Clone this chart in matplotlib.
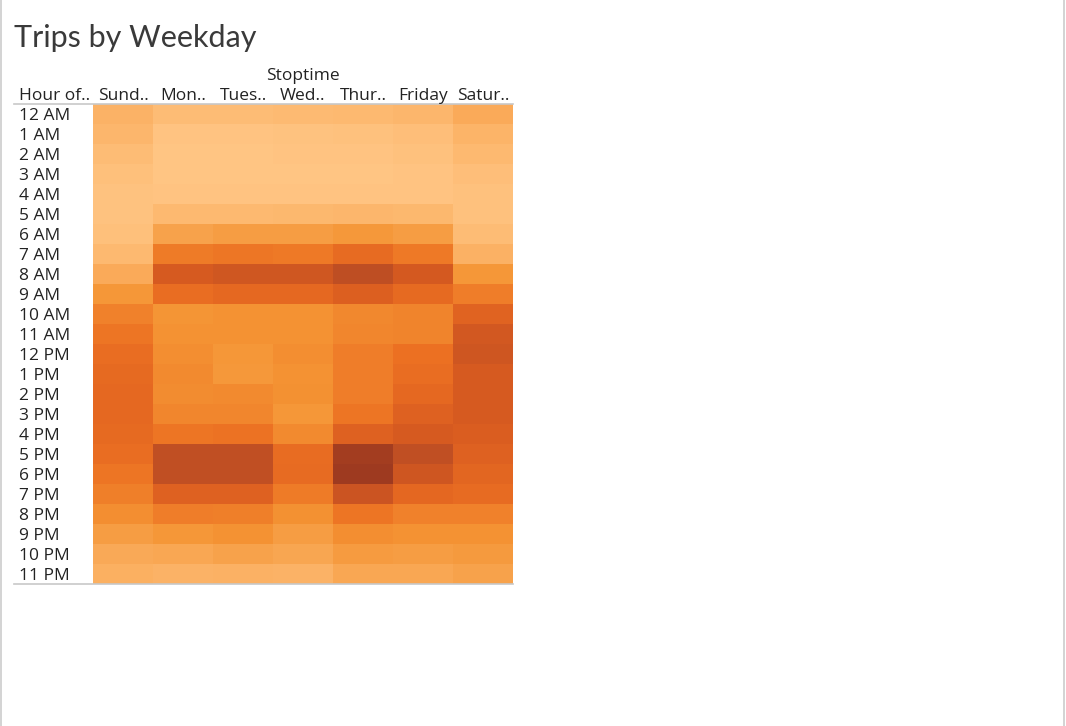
import numpy as np
import matplotlib
matplotlib.use("Agg")
import matplotlib.pyplot as plt
from matplotlib.colors import LinearSegmentedColormap
from matplotlib.lines import Line2D

# trips (relative scale)
days = ["Sund..", "Mon..", "Tues..", "Wed..", "Thur..", "Friday", "Satur.."]
hours = ["12 AM", "1 AM", "2 AM", "3 AM", "4 AM", "5 AM", "6 AM", "7 AM",
         "8 AM", "9 AM", "10 AM", "11 AM", "12 PM", "1 PM", "2 PM", "3 PM",
         "4 PM", "5 PM", "6 PM", "7 PM", "8 PM", "9 PM", "10 PM", "11 PM"]
sunday    = [15, 12, 8, 5, 3, 3, 5, 10, 20, 32, 42, 48, 52, 55, 56, 56, 55, 52, 48, 43, 36, 28, 21, 17]
monday    = [8, 2, 1, 1, 2, 10, 25, 45, 68, 52, 33, 34, 36, 38, 37, 40, 48, 82, 82, 62, 44, 32, 22, 15]
tuesday   = [8, 2, 1, 1, 2, 10, 28, 47, 72, 56, 34, 34, 32, 31, 38, 40, 49, 82, 82, 62, 43, 34, 25, 16]
wednesday = [9, 3, 2, 1, 2, 11, 28, 46, 72, 56, 34, 34, 36, 34, 35, 32, 38, 53, 54, 45, 35, 28, 23, 15]
thursday  = [10, 4, 2, 1, 2, 12, 31, 54, 83, 63, 39, 40, 44, 44, 44, 48, 62, 97, 100, 75, 48, 36, 29, 22]
friday    = [12, 6, 4, 2, 2, 11, 28, 46, 69, 55, 41, 41, 50, 52, 56, 62, 68, 82, 73, 57, 42, 34, 28, 22]
saturday  = [20, 14, 10, 6, 4, 4, 8, 16, 32, 44, 60, 70, 73, 68, 68, 68, 65, 62, 58, 54, 42, 34, 30, 25]

W, H = 1066, 726
fig = plt.figure(figsize=(W / 100, H / 100), dpi=100)

def fx(px):
  return px / W

def fy(py):
  return 1 - py / H

cmap = LinearSegmentedColormap.from_list(
  "tab_orange", ["#ffc685", "#fbb062", "#f49434", "#ec7022", "#d85b20", "#be4e23", "#9e3a20"])

data = np.array([sunday, monday, tuesday, wednesday, thursday, friday, saturday]).T

left, right, top, bottom = 93, 513, 104, 584
ax = fig.add_axes([fx(left), fy(bottom), fx(right - left), (bottom - top) / H])
ax.pcolormesh(np.arange(len(days) + 1), np.arange(len(hours) + 1), data,
              cmap=cmap, vmin=0, vmax=100, shading="flat")
ax.set_xlim(0, len(days))
ax.set_ylim(len(hours), 0)
ax.set_xticks([])
ax.set_yticks([])
for s in ax.spines.values():
  s.set_visible(False)

txt = "#222222"
fnt = "Open Sans"
fs = 12.5
va = "center_baseline"

fig.text(fx(14), fy(47), "Trips by Weekday", fontsize=22, color="#3a3a3a",
         family="Lato", va="baseline", ha="left")
fig.text(fx(303), fy(74), "Stoptime", fontsize=fs, color=txt, family=fnt,
         ha="center", va=va)
fig.text(fx(19), fy(94), "Hour of..", fontsize=fs, color=txt, family=fnt,
         ha="left", va=va)
col_w = (right - left) / len(days)
for i, d in enumerate(days):
  fig.text(fx(left + col_w * (i + 0.5)), fy(94), d, fontsize=fs, color=txt,
           family=fnt, ha="center", va=va)
row_h = (bottom - top) / len(hours)
for j, h in enumerate(hours):
  fig.text(fx(19), fy(top + row_h * (j + 0.5)), h, fontsize=fs, color=txt,
           family=fnt, ha="left", va=va)

# header / footer rules and outer border
for py in (top, bottom):
  fig.add_artist(Line2D([fx(14), fx(right)], [fy(py), fy(py)], color="#c8c8c8", lw=1.2))
for px in (1, 1064):
  fig.add_artist(Line2D([fx(px), fx(px)], [0, 1], color="#cccccc", lw=1.2))

fig.savefig("out.png", dpi=100)
